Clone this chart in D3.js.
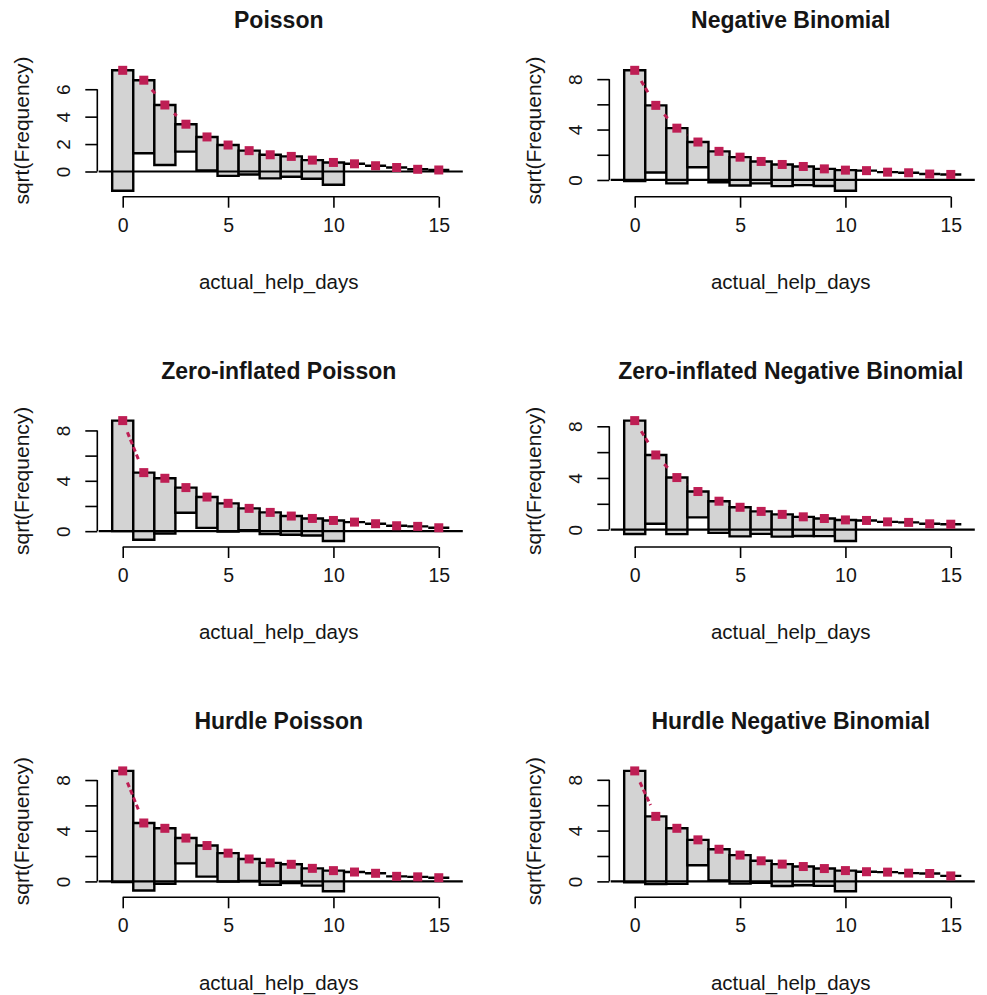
<!doctype html>
<html>
<head>
<meta charset="utf-8">
<script src="https://cdn.jsdelivr.net/npm/d3@7"></script>
<style type="text/css">
html,body{
    margin: 0;
    background: #fff;
    overflow: hidden;
}
text {
    font-family: "Liberation Sans", Arial, sans-serif;
    fill: #151515;
}
</style>
</head>
<body>
<script type="text/javascript">
// count values on the x axis
var days = [0, 1, 2, 3, 4, 5, 6, 7, 8, 9, 10, 11, 12, 13, 14, 15];

// sqrt of observed frequencies (same data in every panel)
var sqrtObserved = [8.78, 5.33, 4.38, 2.00, 2.45, 2.25, 1.74, 1.72, 1.48, 1.36, 1.63, 0, 0, 0, 0, 0];

// sqrt of expected frequencies, one array per model
var sqrtPoisson   = [7.38, 6.66, 4.85, 3.45, 2.52, 1.93, 1.52, 1.22, 1.10, 0.83, 0.66, 0.56, 0.42, 0.29, 0.16, 0.11];
var sqrtNegBin    = [8.70, 5.92, 4.11, 3.01, 2.27, 1.81, 1.47, 1.23, 1.07, 0.88, 0.78, 0.74, 0.62, 0.57, 0.47, 0.44];
var sqrtZIP       = [8.78, 4.65, 4.20, 3.46, 2.71, 2.21, 1.81, 1.49, 1.20, 1.01, 0.85, 0.72, 0.59, 0.43, 0.38, 0.27];
var sqrtZINB      = [8.44, 5.78, 4.03, 2.95, 2.20, 1.73, 1.41, 1.18, 0.99, 0.86, 0.75, 0.71, 0.60, 0.56, 0.45, 0.42];
var sqrtHurdleP   = [8.72, 4.61, 4.19, 3.42, 2.83, 2.23, 1.77, 1.46, 1.35, 1.03, 0.85, 0.74, 0.64, 0.40, 0.36, 0.29];
var sqrtHurdleNB  = [8.70, 5.12, 4.18, 3.27, 2.53, 2.07, 1.62, 1.36, 1.17, 1.01, 0.85, 0.76, 0.73, 0.65, 0.62, 0.43];

var titles = ["Poisson", "Negative Binomial", "Zero-inflated Poisson",
              "Zero-inflated Negative Binomial", "Hurdle Poisson", "Hurdle Negative Binomial"];
var expectedSets = [sqrtPoisson, sqrtNegBin, sqrtZIP, sqrtZINB, sqrtHurdleP, sqrtHurdleNB];

var xTicks = [0, 5, 10, 15];
var yTicksPoisson = [0, 2, 4, 6];
var yLabelsPoisson = [0, 2, 4, 6];
var yTicksOther = [0, 2, 4, 6, 8];
var yLabelsOther = [0, 4, 8];

var xLabel = "actual_help_days",
    yLabel = "sqrt(Frequency)";

(function(){
    var W = 987, H = 995,
        colStep = 512, rowStep = 350.3,
        left = 98.7, right = 462.8, top = 65.5, bottom = 195.5,
        red = "#BE1E54", gap = 12.5;

    var svg = d3.select("body").append("svg")
        .attr("width", W)
        .attr("height", H);

    var x = d3.scaleLinear().domain([-1.14, 16.14]).range([left, right]);

    expectedSets.forEach(function(expd, k){
        var col = k % 2, row = Math.floor(k / 2);
        var g = svg.append("g")
            .attr("transform", "translate(" + (col * colStep) + "," + (row * rowStep) + ")");

        var rows = days.map(function(d, i){
            return {x: d, top: expd[i], bot: expd[i] - sqrtObserved[i]};
        });

        var lo = d3.min(rows, function(d){ return d.bot; }),
            hi = d3.max(rows, function(d){ return d.top; }),
            pad = (hi - lo) * 0.04;
        var y = d3.scaleLinear().domain([lo - pad, hi + pad]).range([bottom, top]);

        // hanging bars
        g.selectAll("path.bar").data(rows).enter().append("path")
            .attr("class", "bar")
            .attr("d", function(d){
                var x0 = x(d.x - 0.5), x1 = x(d.x + 0.5);
                return "M" + x0 + "," + y(d.top) + "H" + x1 + "V" + y(d.bot) + "H" + x0 + "Z";
            })
            .attr("fill", "#d3d3d3")
            .attr("stroke", "#000")
            .attr("stroke-width", 2.4);

        // reference line at zero
        g.append("line")
            .attr("x1", left).attr("x2", right)
            .attr("y1", y(0)).attr("y2", y(0))
            .attr("stroke", "#000")
            .attr("stroke-width", 2.2);

        // expected curve, drawn type="b" style with gaps round the points
        for (var i = 0; i < rows.length - 1; i++) {
            var ax = x(rows[i].x), ay = y(rows[i].top),
                bx = x(rows[i + 1].x), by = y(rows[i + 1].top),
                len = Math.hypot(bx - ax, by - ay);
            if (len <= 2 * gap) continue;
            var ux = (bx - ax) / len, uy = (by - ay) / len;
            g.append("line")
                .attr("x1", ax + ux * gap).attr("y1", ay + uy * gap)
                .attr("x2", bx - ux * gap).attr("y2", by - uy * gap)
                .attr("stroke", red)
                .attr("stroke-width", 3)
                .attr("stroke-dasharray", "5,3");
        }

        g.selectAll("rect.pt").data(rows).enter().append("rect")
            .attr("class", "pt")
            .attr("x", function(d){ return x(d.x) - 4.5; })
            .attr("y", function(d){ return y(d.top) - 4.5; })
            .attr("width", 9).attr("height", 9)
            .attr("fill", red);

        // x axis
        var xa = g.append("g")
            .attr("transform", "translate(0," + (bottom + 1.2) + ")")
            .call(d3.axisBottom(x).tickValues(xTicks).tickSize(11).tickSizeOuter(0).tickPadding(10));
        xa.select(".domain").attr("d", "M" + x(xTicks[0]) + ",0H" + x(xTicks[xTicks.length - 1]));
        xa.selectAll("path,line").attr("stroke", "#000").attr("stroke-width", 1.6);
        xa.selectAll("text")
            .style("font-size", "19.5px")
            .attr("fill", "#151515");

        // y axis
        var yt = k === 0 ? yTicksPoisson : yTicksOther,
            yl = k === 0 ? yLabelsPoisson : yLabelsOther;
        var ya = g.append("g")
            .attr("transform", "translate(" + (left - 1.4) + ",0)")
            .call(d3.axisLeft(y).tickValues(yt).tickSize(12).tickSizeOuter(0)
                .tickFormat(function(d){ return yl.indexOf(d) >= 0 ? d : ""; }));
        ya.select(".domain").attr("d", "M0," + y(yt[0]) + "V" + y(yt[yt.length - 1]));
        ya.selectAll("path,line").attr("stroke", "#000").attr("stroke-width", 1.6);
        ya.selectAll("text")
            .attr("x", null).attr("dy", null)
            .attr("transform", "translate(" + (63.5 - left + 1.4) + ",0) rotate(-90)")
            .attr("text-anchor", "middle")
            .attr("dominant-baseline", "central")
            .style("font-size", "19px")
            .attr("fill", "#151515");

        // titles
        g.append("text")
            .attr("x", (left + right) / 2 - 2)
            .attr("y", 28.3)
            .attr("text-anchor", "middle")
            .style("font-size", "23px")
            .style("font-weight", "bold")
            .text(titles[k]);

        g.append("text")
            .attr("x", (left + right) / 2 - 2)
            .attr("y", 289)
            .attr("text-anchor", "middle")
            .style("font-size", "20.5px")
            .text(xLabel);

        g.append("text")
            .attr("transform", "translate(21," + ((top + bottom) / 2) + ") rotate(-90)")
            .attr("text-anchor", "middle")
            .attr("dominant-baseline", "central")
            .style("font-size", "21px")
            .text(yLabel);
    });
})();
</script>
</body>
</html>
